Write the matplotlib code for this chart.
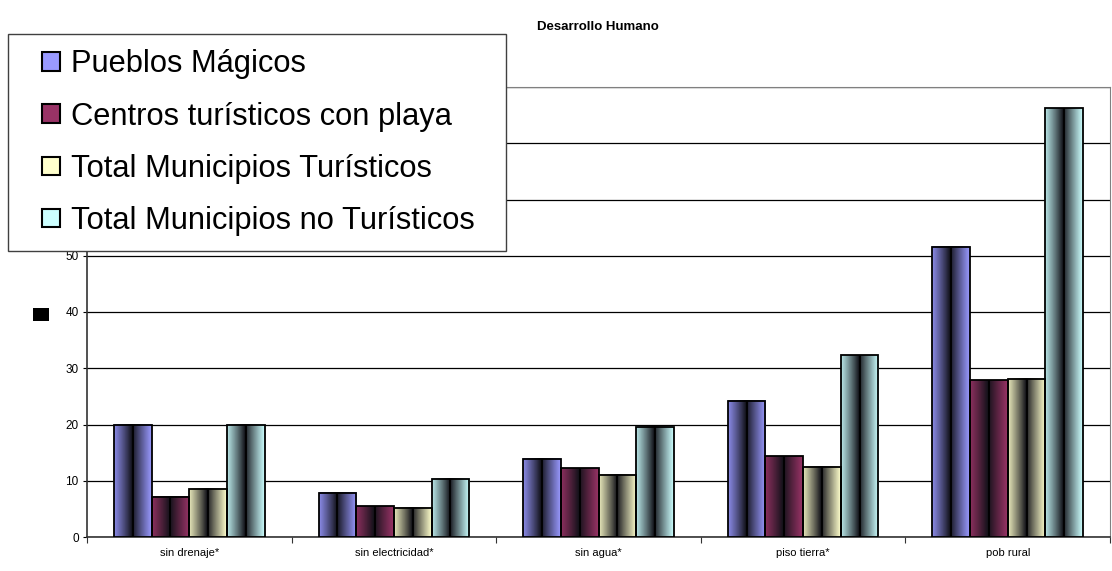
import numpy as np
import matplotlib
matplotlib.use('Agg')
import matplotlib.pyplot as plt
from matplotlib.colors import to_rgb
from matplotlib.patches import Patch, Rectangle
from matplotlib.legend_handler import HandlerPatch

plt.rcParams['font.family'] = ['Liberation Sans', 'DejaVu Sans']

categories = ['sin drenaje*', 'sin electricidad*', 'sin agua*', 'piso tierra*', 'pob rural']
series_names = ['Pueblos Mágicos', 'Centros turísticos con playa',
                'Total Municipios Turísticos', 'Total Municipios no Turísticos']
pueblos_magicos = [20.0, 7.9, 13.9, 24.2, 51.6]
centros_playa = [7.2, 5.5, 12.2, 14.4, 27.9]
total_turisticos = [8.6, 5.2, 11.1, 12.5, 28.1]
total_no_turisticos = [20.0, 10.4, 19.6, 32.3, 76.2]
series_values = [pueblos_magicos, centros_playa, total_turisticos, total_no_turisticos]
light_colors = ['#9999ff', '#993366', '#ffffcc', '#ccffff']
y_ticks = [0, 10, 20, 30, 40, 50, 60, 70, 80]


def gradient(light, dark='#111118', n=64):
    # cylinder-like shading: light at edges, dark in the middle
    t = np.linspace(0, 1, n)
    d = np.abs(t - 0.47) / 0.53
    d = np.clip(d, 0, 1) ** 0.9
    lc = np.array(to_rgb(light))
    dc = np.array(to_rgb(dark))
    row = dc[None, :] + (lc - dc)[None, :] * d[:, None]
    return row[None, :, :]


def square_at_right(legend, orig_handle, xdescent, ydescent, width, height, fontsize):
    # small square marker sitting at the right end of the handle box
    s = height * 0.95
    return Rectangle((width - s - xdescent + 2, -ydescent + (height - s) / 2), s, s)


def main():
    fig = plt.figure(figsize=(11.12, 5.71), dpi=100)
    ax = fig.add_axes([87 / 1112, 1 - 537 / 571, 1023 / 1112, 450 / 571])

    x = np.arange(len(categories))
    bar_w = 0.184
    offsets = (np.arange(len(series_values)) - 1.5) * bar_w

    for i, vals in enumerate(series_values):
        grad = gradient(light_colors[i])
        for xi, v in zip(x + offsets[i], vals):
            ax.imshow(grad, extent=[xi - bar_w / 2, xi + bar_w / 2, 0, v],
                      aspect='auto', interpolation='bilinear', zorder=3)
        ax.bar(x + offsets[i], vals, width=bar_w, facecolor='none',
               edgecolor='black', linewidth=1.3, zorder=4)
        ax.vlines(x + offsets[i], 0, vals, color='black', linewidth=1.3, zorder=4)

    ax.set_xlim(-0.5, len(categories) - 0.5)
    ax.set_ylim(0, 80)
    ax.set_yticks(y_ticks)
    ax.yaxis.grid(True, color='black', linewidth=0.9)
    ax.set_axisbelow(True)
    ax.tick_params(axis='y', labelsize=8.5, length=3, direction='out', pad=3)

    ax.set_xticks(np.arange(len(categories) + 1) - 0.5)
    ax.set_xticklabels([])
    ax.tick_params(axis='x', which='major', length=4, direction='out', color='#333333')
    ax.set_xticks(x, minor=True)
    ax.set_xticklabels(categories, minor=True, fontsize=8)
    ax.tick_params(axis='x', which='minor', length=0, pad=8)

    for side in ['top', 'right']:
        ax.spines[side].set_color('#808080')
    for side in ['left', 'bottom']:
        ax.spines[side].set_color('#333333')
        ax.spines[side].set_linewidth(1.2)

    fig.text(598 / 1112, 1 - 27 / 571, 'Desarrollo Humano', ha='center', va='center',
             fontsize=9.5, fontweight='bold')

    handles = [Patch(facecolor=c, edgecolor='black', linewidth=1.5) for c in light_colors]
    leg = fig.legend(handles, series_names, loc='upper left',
                     bbox_to_anchor=(8 / 1112, 1 - 250 / 571, 498 / 1112, 216 / 571),
                     mode='expand', borderaxespad=0,
                     fontsize=22.2, frameon=True, fancybox=False, edgecolor='#404040',
                     framealpha=1, handlelength=1.1, handleheight=0.6,
                     handletextpad=0.45, labelspacing=0.72, borderpad=0.5,
                     handler_map={Patch: HandlerPatch(patch_func=square_at_right)})
    leg.get_frame().set_linewidth(1.0)
    leg.set_zorder(10)

    # small black marker left of the axis
    fig.patches.append(Rectangle((33 / 1112, 1 - 321 / 571), 16 / 1112, 13 / 571,
                                 transform=fig.transFigure, facecolor='black',
                                 edgecolor='none'))

    fig.savefig('out.png', dpi=100)


if __name__ == '__main__':
    main()
